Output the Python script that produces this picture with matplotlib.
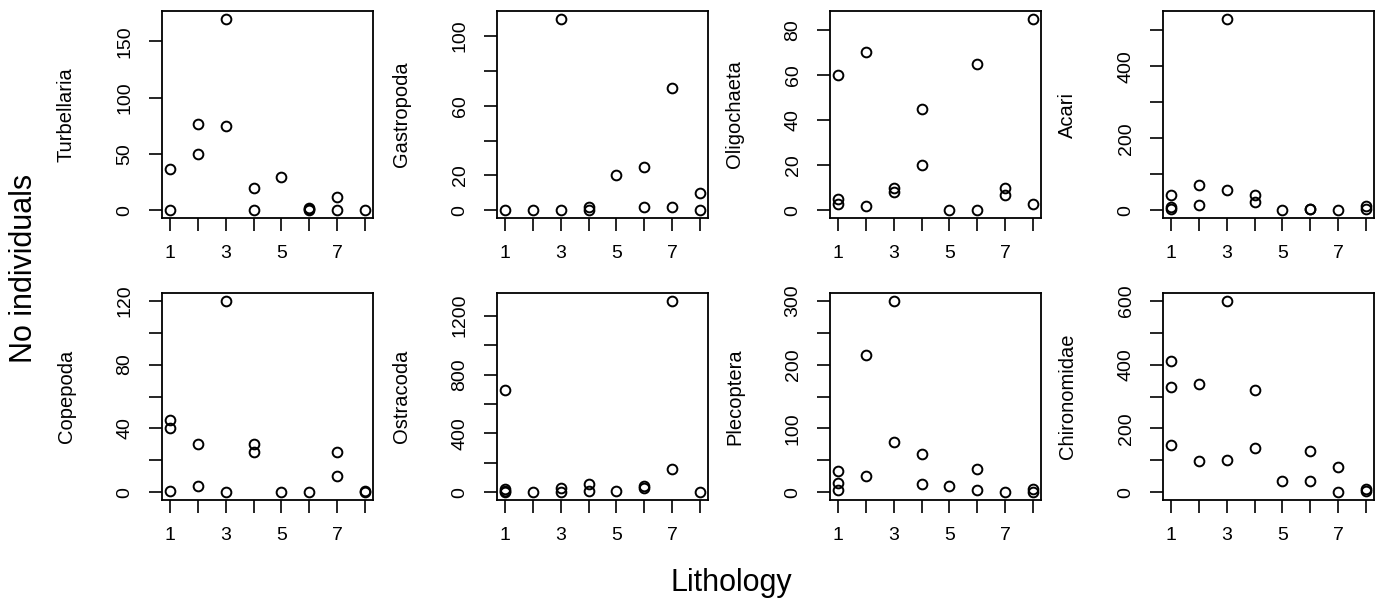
import numpy as np
import matplotlib.pyplot as plt

plt.rcParams['font.family'] = ['Liberation Sans', 'DejaVu Sans']

# Nombre d'individus par lithologie
taxa = ['Turbellaria', 'Gastropoda', 'Oligochaeta', 'Acari',
        'Copepoda', 'Ostracoda', 'Plecoptera', 'Chironomidae']

turbellaria_x = [1, 1, 2, 2, 3, 3, 4, 4, 5, 6, 6, 6, 7, 7, 8]
turbellaria_y = [37, 0, 77, 50, 170, 75, 20, 0, 30, 0, 1, 2, 12, 0, 0]

gastropoda_x = [1, 2, 3, 3, 4, 4, 5, 6, 6, 7, 7, 8, 8]
gastropoda_y = [0, 0, 110, 0, 0, 2, 20, 25, 2, 70, 2, 10, 0]

oligochaeta_x = [1, 1, 1, 2, 2, 3, 3, 4, 4, 5, 6, 6, 7, 7, 8, 8]
oligochaeta_y = [60, 5, 3, 70, 2, 10, 8, 45, 20, 0, 65, 0, 10, 7, 85, 3]

acari_x = [1, 1, 1, 2, 2, 3, 3, 4, 4, 5, 6, 6, 7, 8, 8]
acari_y = [42, 8, 5, 69, 16, 532, 57, 42, 23, 0, 5, 3, 0, 12, 3]

copepoda_x = [1, 1, 1, 2, 2, 3, 3, 4, 4, 5, 6, 7, 7, 8, 8]
copepoda_y = [45, 40, 1, 30, 4, 120, 0, 30, 25, 0, 0, 25, 10, 0, 1]

ostracoda_x = [1, 1, 1, 1, 2, 3, 3, 4, 4, 5, 6, 6, 7, 7, 8]
ostracoda_y = [698, 20, 10, 0, 0, 32, 5, 54, 12, 10, 40, 30, 1302, 160, 0]

plecoptera_x = [1, 1, 1, 2, 2, 3, 3, 4, 4, 5, 6, 6, 7, 8, 8]
plecoptera_y = [34, 15, 4, 215, 25, 300, 79, 60, 13, 10, 36, 4, 0, 5, 1]

chironomidae_x = [1, 1, 1, 2, 2, 3, 3, 4, 4, 5, 6, 6, 7, 7, 8, 8]
chironomidae_y = [410, 330, 149, 340, 99, 600, 100, 320, 140, 34, 129, 34, 78, 0, 10, 5]

xs = [turbellaria_x, gastropoda_x, oligochaeta_x, acari_x,
      copepoda_x, ostracoda_x, plecoptera_x, chironomidae_x]
ys = [turbellaria_y, gastropoda_y, oligochaeta_y, acari_y,
      copepoda_y, ostracoda_y, plecoptera_y, chironomidae_y]

# graduations (comme R : certaines étiquettes sautées)
y_steps = [50, 20, 20, 100, 20, 200, 50, 100]
y_labels = [[0, 50, 100, 150], [0, 20, 60, 100], [0, 20, 40, 60, 80], [0, 200, 400],
            [0, 40, 80, 120], [0, 400, 800, 1200], [0, 100, 200, 300], [0, 200, 400, 600]]

x_ticks = [1, 2, 3, 4, 5, 6, 7, 8]
x_labels = ['1', '', '3', '', '5', '', '7', '']

fig = plt.figure(figsize=(13.8, 6.02), dpi=100)

lefts = [162, 497, 830, 1163]
tops = [11, 293]
w, h = 211, 207

for i, name in enumerate(taxa):
    r, c = divmod(i, 4)
    ax = fig.add_axes([lefts[c] / 1380, 1 - (tops[r] + h) / 602, w / 1380, h / 602])
    ax.plot(xs[i], ys[i], 'o', mfc='none', mec='black', ms=7, mew=1.4)

    ymin, ymax = min(ys[i]), max(ys[i])
    pad = 0.04 * (ymax - ymin)
    ax.set_ylim(ymin - pad, ymax + pad)
    ax.set_xlim(1 - 0.04 * 7, 8 + 0.04 * 7)

    yt = np.arange(0, ymax + pad + 1e-9, y_steps[i])
    ax.set_yticks(yt)
    ax.set_yticklabels([str(int(v)) if int(v) in y_labels[i] else '' for v in yt])
    ax.set_xticks(x_ticks)
    ax.set_xticklabels(x_labels)

    ax.tick_params(axis='both', direction='out', length=9.5, width=1.2, labelsize=14)
    ax.tick_params(axis='y', labelrotation=90, pad=11)
    ax.tick_params(axis='x', pad=10)
    for lab in ax.get_yticklabels():
        lab.set_va('center')
    for s in ax.spines.values():
        s.set_linewidth(1.3)

    ax.set_ylabel(name, fontsize=14.5)
    ax.yaxis.set_label_coords(-86 / w, 0.5)

fig.text(24 / 1380, 1 - 268 / 602, 'No individuals', rotation=90, fontsize=22,
         ha='center', va='center')
fig.text(731 / 1380, 1 - 583 / 602, 'Lithology', fontsize=22, ha='center', va='center')

fig.savefig('out.png', dpi=100)
